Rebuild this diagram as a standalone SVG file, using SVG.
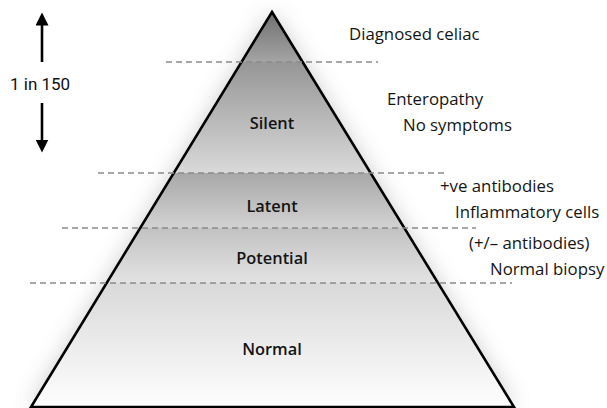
<svg xmlns="http://www.w3.org/2000/svg" width="607" height="408" viewBox="0 0 607 408">
  <defs>
    <style>
      .note { font-family: "Open Sans", "Liberation Sans", sans-serif; font-size: 16.8px; fill: #141414; }
      .tier { font-family: "Open Sans", "Liberation Sans", sans-serif; font-size: 16.4px; font-weight: 600; fill: #141414; text-anchor: middle; }
      .count { font-family: Roboto, "Liberation Sans", sans-serif; font-size: 17px; fill: #111; }
      .divider { stroke: #8a8a8a; stroke-width: 1.4; stroke-dasharray: 6 4; fill: none; }
      .edge { fill: none; stroke: #000; stroke-width: 2.6; stroke-linejoin: miter; }
      .shaft { stroke: #000; stroke-width: 2.6; fill: none; }
    </style>
    <filter id="glow" x="-20%" y="-20%" width="140%" height="140%">
      <feGaussianBlur stdDeviation="11"/>
    </filter>
    <linearGradient id="gA" x1="0" y1="0" x2="0" y2="1">
      <stop offset="0" stop-color="#6f6f6f"/>
      <stop offset="1" stop-color="#a4a4a4"/>
    </linearGradient>
    <linearGradient id="gB" x1="0" y1="0" x2="0" y2="1">
      <stop offset="0" stop-color="#969696"/>
      <stop offset="1" stop-color="#d9d9d9"/>
    </linearGradient>
    <linearGradient id="gC" x1="0" y1="0" x2="0" y2="1">
      <stop offset="0" stop-color="#a8a8a8"/>
      <stop offset="1" stop-color="#d2d2d2"/>
    </linearGradient>
    <linearGradient id="gD" x1="0" y1="0" x2="0" y2="1">
      <stop offset="0" stop-color="#c2c2c2"/>
      <stop offset="1" stop-color="#e3e3e3"/>
    </linearGradient>
    <linearGradient id="gE" x1="0" y1="0" x2="0" y2="1">
      <stop offset="0" stop-color="#d9d9d9"/>
      <stop offset="1" stop-color="#fefefe"/>
    </linearGradient>
    <marker id="head" markerWidth="5" markerHeight="5" refX="2.5" refY="2.5" orient="auto" markerUnits="strokeWidth">
      <path d="M0,0 L5,2.5 L0,5 Z" fill="#000"/>
    </marker>
  </defs>

  <!-- soft halo behind the pyramid -->
  <polygon points="272,12 514,407 31,407" fill="#8c8c8c" opacity="0.45" filter="url(#glow)"/>

  <!-- pyramid tiers -->
  <g id="tier-diagnosed">
    <polygon points="272,12 302.6,62 241.5,62" fill="url(#gA)"/>
  </g>
  <g id="tier-silent">
    <polygon points="241.5,62 302.6,62 370.6,173 173.8,173" fill="url(#gB)"/>
    <text class="tier" x="272" y="129">Silent</text>
  </g>
  <g id="tier-latent">
    <polygon points="173.8,173 370.6,173 404.3,228 140.2,228" fill="url(#gC)"/>
    <text class="tier" x="272" y="212">Latent</text>
  </g>
  <g id="tier-potential">
    <polygon points="140.2,228 404.3,228 438,283 106.7,283" fill="url(#gD)"/>
    <text class="tier" x="272" y="264">Potential</text>
  </g>
  <g id="tier-normal">
    <polygon points="106.7,283 438,283 514,407 31,407" fill="url(#gE)"/>
    <text class="tier" x="272" y="355">Normal</text>
  </g>

  <!-- pyramid outline -->
  <polygon class="edge" points="272,12 514,407 31,407"/>

  <!-- dashed tier boundaries -->
  <g id="dividers">
    <line class="divider" x1="166" y1="62" x2="378" y2="62"/>
    <line class="divider" x1="98" y1="173" x2="448" y2="173"/>
    <line class="divider" x1="62" y1="228" x2="476" y2="228"/>
    <line class="divider" x1="30" y1="283" x2="512" y2="283"/>
  </g>

  <!-- prevalence arrows -->
  <g id="prevalence">
    <line class="shaft" x1="42" y1="62" x2="42" y2="19" marker-end="url(#head)"/>
    <line class="shaft" x1="42" y1="103" x2="42" y2="146" marker-end="url(#head)"/>
    <text class="count" x="10" y="90">1 in 150</text>
  </g>

  <!-- side notes -->
  <g id="notes">
    <text class="note" x="349" y="40">Diagnosed celiac</text>
    <text class="note" x="387" y="105">Enteropathy</text>
    <text class="note" x="403" y="131">No symptoms</text>
    <text class="note" x="440" y="192">+ve antibodies</text>
    <text class="note" x="455" y="218">Inflammatory cells</text>
    <text class="note" x="469" y="249">(+/– antibodies)</text>
    <text class="note" x="490" y="275">Normal biopsy</text>
  </g>
</svg>
